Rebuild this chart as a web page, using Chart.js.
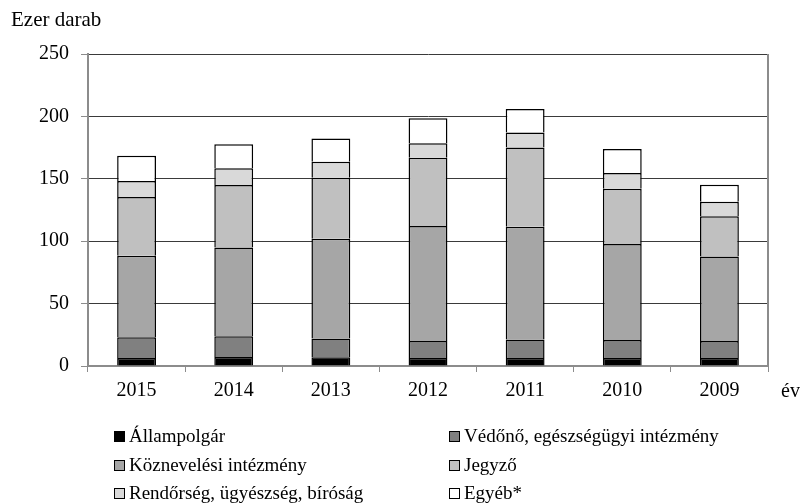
<!DOCTYPE html>
<html>
<head>
<meta charset="utf-8">
<script src="https://cdn.jsdelivr.net/npm/chart.js@4"></script>
<style>
    html, body { margin: 0; padding: 0; background: #fff; }
    #wrap { position: relative; width: 802px; height: 504px; font-family: "Liberation Serif", "Times New Roman", serif; color: #000; }
    #chart { position: absolute; left: 0; top: 0; }
    .txt { position: absolute; white-space: nowrap; }
    .leg { position: absolute; white-space: nowrap; font-size: 19px; line-height: 22px; }
    .leg i { display: inline-block; width: 9px; height: 9px; border: 1px solid #000; margin-right: 4px; vertical-align: baseline; }
</style>
</head>
<body>
<div id="wrap">
    <canvas id="chart" width="802" height="504"></canvas>
    <div class="txt" style="left:11px; top:7px; font-size:21px; line-height:24px;">Ezer darab</div>
    <div class="txt" style="left:781px; top:378px; font-size:20px; line-height:24px;">év</div>
    <div id="legend"></div>
</div>
<script>
const categories = ['2015', '2014', '2013', '2012', '2011', '2010', '2009'];
const allampolgar = [6.4, 7.2, 7.0, 6.4, 6.4, 6.4, 6.4];
const vedono = [16.6, 16.6, 15.0, 13.7, 14.8, 14.5, 13.7];
const koznevelesi = [65.3, 71.2, 79.9, 92.0, 90.4, 76.8, 67.7];
const jegyzo = [47.1, 50.0, 49.0, 54.8, 63.4, 44.4, 32.1];
const rendorseg = [12.8, 13.4, 12.8, 11.6, 12.0, 12.6, 11.7];
const egyeb = [20.3, 19.3, 18.5, 20.0, 19.0, 19.2, 13.7];
const yTicks = [0, 50, 100, 150, 200, 250];

const axisGrey = '#8c8c8c';
const gridDark = '#3a3a3a';
const tickFont = { family: '"Liberation Serif", "Times New Roman", serif', size: 20 };

const series = [
    { label: 'Állampolgár', data: allampolgar, color: '#000000' },
    { label: 'Védőnő, egészségügyi intézmény', data: vedono, color: '#808080' },
    { label: 'Köznevelési intézmény', data: koznevelesi, color: '#a6a6a6' },
    { label: 'Jegyző', data: jegyzo, color: '#c0c0c0' },
    { label: 'Rendőrség, ügyészség, bíróság', data: rendorseg, color: '#d9d9d9' },
    { label: 'Egyéb*', data: egyeb, color: '#ffffff' },
];

// right edge of the plot frame
const rightBorder = {
    id: 'rightBorder',
    afterDraw(chart) {
        const { ctx, chartArea } = chart;
        ctx.save();
        ctx.strokeStyle = axisGrey;
        ctx.lineWidth = 2;
        ctx.beginPath();
        ctx.moveTo(chartArea.right, chartArea.top);
        ctx.lineTo(chartArea.right, chartArea.bottom);
        ctx.stroke();
        ctx.restore();
    }
};

const chart = new Chart(document.getElementById('chart'), {
    type: 'bar',
    data: {
        labels: categories,
        datasets: series.map(s => ({
            label: s.label,
            data: s.data,
            backgroundColor: s.color,
            borderColor: '#000',
            borderWidth: 1.5,
            borderSkipped: 'start',
            categoryPercentage: 1,
            barPercentage: 0.4,
        }))
    },
    options: {
        responsive: false,
        animation: false,
        layout: { padding: { left: 0, right: 34, top: 54, bottom: 98 } },
        plugins: { legend: { display: false }, tooltip: { enabled: false }, title: { display: false } },
        scales: {
            x: {
                stacked: true,
                grid: { display: true, drawOnChartArea: false, drawTicks: true, tickLength: 6, tickColor: axisGrey, offset: true },
                border: { display: true, color: axisGrey, width: 2 },
                ticks: { color: '#000', font: tickFont, padding: 7, maxRotation: 0 },
                afterFit(scale) { scale.height = 40; }
            },
            y: {
                stacked: true,
                min: 0,
                max: 250,
                afterBuildTicks(scale) { scale.ticks = yTicks.map(v => ({ value: v })); },
                grid: { color: gridDark, lineWidth: 1, tickLength: 7, tickColor: axisGrey },
                border: { display: true, color: axisGrey, width: 2 },
                ticks: { color: '#000', font: tickFont, padding: 12 },
                afterFit(scale) { scale.width = 88; }
            }
        }
    },
    plugins: [rightBorder]
});

// two-column legend under the chart
const legendPos = [[114, 425], [449, 425], [114, 454], [449, 454], [114, 482], [449, 482]];
const legendEl = document.getElementById('legend');
chart.data.datasets.forEach((ds, i) => {
    const d = document.createElement('div');
    d.className = 'leg';
    d.style.left = legendPos[i][0] + 'px';
    d.style.top = legendPos[i][1] + 'px';
    const box = document.createElement('i');
    box.style.background = ds.backgroundColor;
    d.appendChild(box);
    d.appendChild(document.createTextNode(ds.label));
    legendEl.appendChild(d);
});
</script>
</body>
</html>
